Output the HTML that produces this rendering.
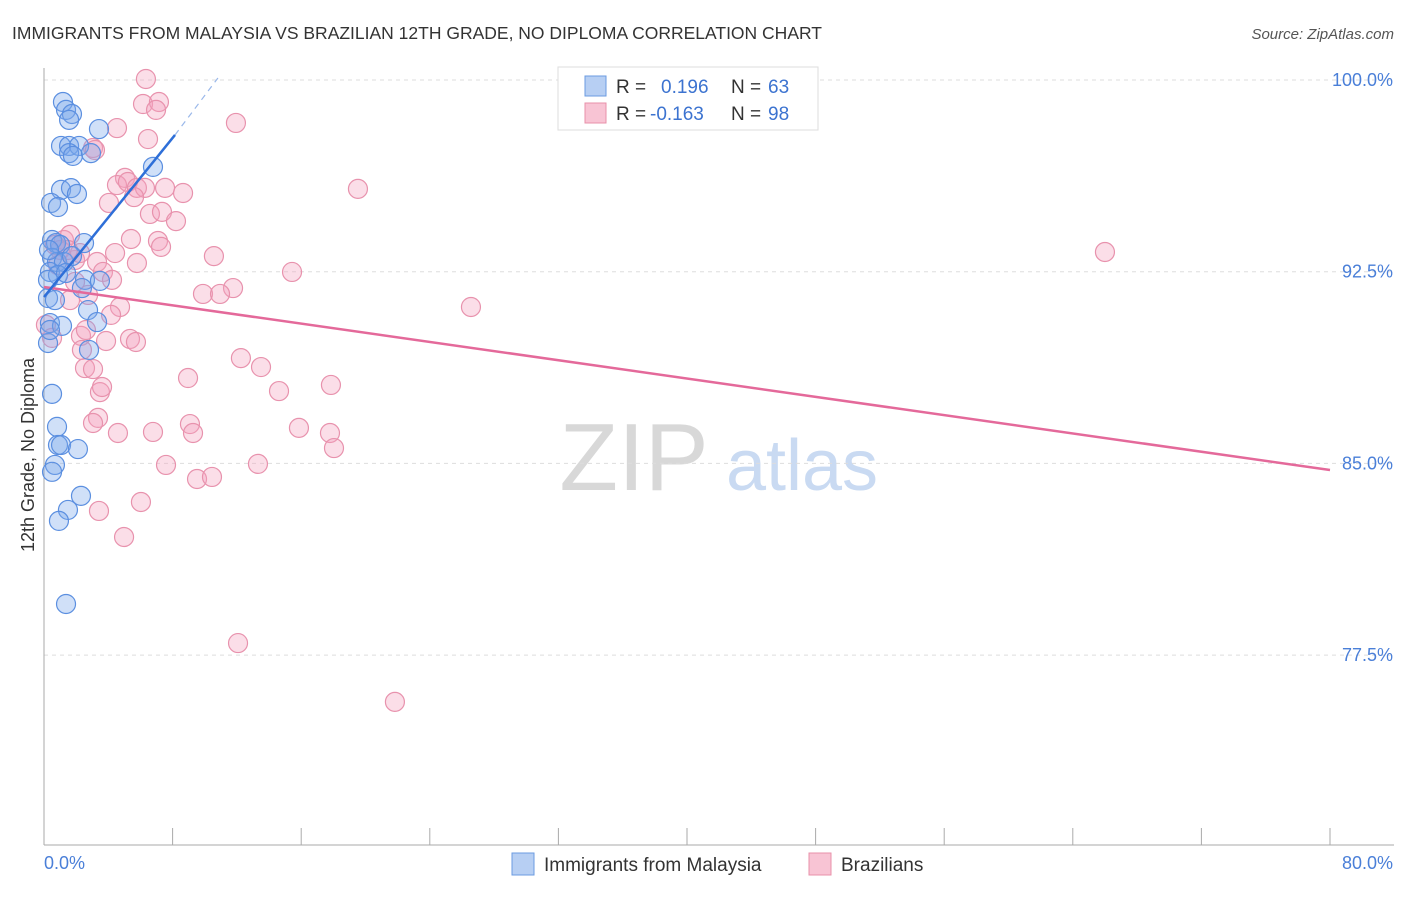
<!DOCTYPE html>
<html><head><meta charset="utf-8"><style>
body{margin:0;background:#fff;font-family:"Liberation Sans",sans-serif;}
svg text{font-family:"Liberation Sans",sans-serif;}
</style></head><body>
<svg id="chart" width="1406" height="892" viewBox="0 0 1406 892" xmlns="http://www.w3.org/2000/svg">
<text x="12" y="39" font-size="17.5" fill="#333">IMMIGRANTS FROM MALAYSIA VS BRAZILIAN 12TH GRADE, NO DIPLOMA CORRELATION CHART</text>
<text x="1394" y="39" font-size="15" fill="#555" font-style="italic" text-anchor="end">Source: ZipAtlas.com</text>
<g>
<text x="634" y="490" font-size="96" fill="#d8d8d8" font-family="Liberation Serif" text-anchor="middle" font-family="Liberation Serif,serif">ZIP</text>
<text x="802" y="490" font-size="72" fill="#c9daf2" text-anchor="middle">atlas</text>
</g>
<g id="grid"></g>
<g id="axes"></g>
<g id="pts"></g>
<g id="lines"></g>
<text transform="translate(34,455) rotate(-90)" font-size="18" fill="#333" text-anchor="middle">12th Grade, No Diploma</text>
<g>
<rect x="558" y="67" width="260" height="63" fill="#fff" stroke="#ddd"/>
<rect x="585" y="76" width="21" height="20" fill="#b7cff3" stroke="#6b9be0"/>
<rect x="585" y="103" width="21" height="20" fill="#f8c4d4" stroke="#e890aa"/>
<text x="616" y="93" font-size="19" fill="#333">R =</text><text x="661" y="93" font-size="19" fill="#3c73d0">0.196</text>
<text x="731" y="93" font-size="19" fill="#333">N =</text><text x="768" y="93" font-size="19" fill="#3c73d0">63</text>
<text x="616" y="120" font-size="19" fill="#333">R =</text><text x="650" y="120" font-size="19" fill="#3c73d0">-0.163</text>
<text x="731" y="120" font-size="19" fill="#333">N =</text><text x="768" y="120" font-size="19" fill="#3c73d0">98</text>
</g>
<g>
<rect x="512" y="853" width="22" height="22" fill="#b7cff3" stroke="#6b9be0"/>
<text x="544" y="871" font-size="19" fill="#333">Immigrants from Malaysia</text>
<rect x="809" y="853" width="22" height="22" fill="#f8c4d4" stroke="#e890aa"/>
<text x="841" y="871" font-size="19" fill="#333">Brazilians</text>
</g>
</svg>
<script>
const yTicks=[100,92.5,85,77.5];
const yTickLabels=["100.0%","92.5%","85.0%","77.5%"];
const xTickVals=[0,8,16,24,32,40,48,56,64,72,80];
const xEndLabels=["0.0%","80.0%"];
const blueX=[1.18,1.37,1.74,1.56,3.42,1.06,1.56,2.18,1.56,1.80,2.92,6.78,1.06,1.68,2.05,0.44,0.87,0.50,0.75,1.00,2.49,0.50,0.81,1.24,1.74,0.37,0.87,1.37,2.55,3.48,0.25,0.68,2.36,2.74,3.30,0.37,1.12,0.25,2.80,0.50,0.81,0.87,1.06,2.11,0.68,0.50,2.30,1.49,0.93,1.37,0.25,0.37,0.31];
const blueY=[99.14,98.83,98.67,98.44,98.08,97.42,97.42,97.42,97.14,97.03,97.14,96.60,95.70,95.77,95.54,95.19,95.03,93.74,93.62,93.55,93.62,93.04,92.88,92.88,93.11,92.49,92.37,92.45,92.18,92.14,91.47,91.39,91.86,91.00,90.53,90.49,90.38,89.71,89.44,87.72,86.43,85.72,85.72,85.56,84.94,84.67,83.73,83.18,82.75,79.50,92.18,90.22,93.35];
const pinkX=[6.34,6.16,7.15,6.97,6.47,11.94,4.54,3.05,1.24,1.62,1.00,0.68,1.93,2.24,5.04,4.54,5.22,5.78,6.28,7.53,8.65,4.04,5.60,6.59,7.34,8.21,19.53,5.41,7.09,7.28,4.42,5.78,3.30,10.57,15.43,11.76,9.89,10.95,66.0,26.56,3.67,4.23,1.93,2.74,4.73,4.17,5.35,5.72,3.86,2.30,2.36,2.55,3.05,3.48,3.61,12.25,13.50,8.96,14.62,17.85,3.36,3.05,4.60,6.78,9.08,9.27,15.86,17.79,18.04,7.59,13.31,9.52,10.45,3.42,6.03,4.98,12.07,21.83,1.62,2.61,0.12,0.50,0.87,1.49,3.17];
const pinkY=[100.04,99.06,99.14,98.83,97.69,98.32,98.12,97.34,93.74,93.94,93.35,93.55,92.96,93.23,96.17,95.89,96.01,95.78,95.78,95.78,95.58,95.19,95.42,94.76,94.84,94.48,95.74,93.78,93.70,93.47,93.23,92.84,92.88,93.11,92.49,91.86,91.63,91.63,93.27,91.12,92.49,92.18,92.10,91.59,91.12,90.81,89.87,89.75,89.79,89.99,89.44,88.73,88.69,87.79,87.99,89.12,88.77,88.34,87.83,88.07,86.78,86.58,86.19,86.23,86.54,86.19,86.39,86.19,85.60,84.94,84.98,84.39,84.47,83.14,83.49,82.12,77.97,75.67,91.39,90.22,90.42,89.91,92.76,93.35,97.26];
const blueFit=[[0,91.51],[8.15,97.85]];
const blueFitDash=[[8.15,97.85],[10.82,100.08]];
const pinkFit=[[0,91.90],[80,84.74]];

const NS="http://www.w3.org/2000/svg";
const sx=v=>44+v/80*1286;
const sy=v=>80+(100-v)/7.5*191.7;
function mk(tag,attrs,parent){const e=document.createElementNS(NS,tag);for(const k in attrs)e.setAttribute(k,attrs[k]);parent.appendChild(e);return e;}
const grid=document.getElementById('grid'),axes=document.getElementById('axes'),pts=document.getElementById('pts'),lines=document.getElementById('lines');
yTicks.forEach((t,i)=>{
  const l=mk('line',{x1:44,x2:1394,y1:sy(t),y2:sy(t),stroke:'#ddd','stroke-dasharray':'4,4'},grid);
  
  
  const tx=mk('text',{x:1393,y:sy(t)+6,'font-size':18,fill:'#4a7fd8','text-anchor':'end'},axes);
  tx.textContent=yTickLabels[i];
  
  
});
const ya=mk('line',{x1:44,x2:44,y1:68,y2:845,stroke:'#aaa'},axes);


const xa=mk('line',{x1:44,x2:1394,y1:845,y2:845,stroke:'#aaa'},axes);


xTickVals.forEach(v=>{
  const t=mk('line',{x1:sx(v),x2:sx(v),y1:828,y2:845,stroke:'#aaa'},axes);
  
  
});
const xl0=mk('text',{x:44,y:869,'font-size':18,fill:'#4a7fd8'},axes);
xl0.textContent=xEndLabels[0];


const xl1=mk('text',{x:1393,y:869,'font-size':18,fill:'#4a7fd8','text-anchor':'end'},axes);
xl1.textContent=xEndLabels[1];


pinkX.forEach((x,i)=>{
  const c=mk('circle',{cx:sx(x),cy:sy(pinkY[i]),r:9.5,fill:'rgba(244,160,188,0.35)',stroke:'#e892ad','stroke-width':1.2},pts);
  
  
});
blueX.forEach((x,i)=>{
  const c=mk('circle',{cx:sx(x),cy:sy(blueY[i]),r:9.5,fill:'rgba(120,165,235,0.35)',stroke:'#5b8fe0','stroke-width':1.2},pts);
  
  
});
const pl=mk('line',{x1:sx(pinkFit[0][0]),y1:sy(pinkFit[0][1]),x2:sx(pinkFit[1][0]),y2:sy(pinkFit[1][1]),stroke:'#e4699a','stroke-width':2.5},lines);


const bl=mk('line',{x1:sx(blueFit[0][0]),y1:sy(blueFit[0][1]),x2:sx(blueFit[1][0]),y2:sy(blueFit[1][1]),stroke:'#2e6fd8','stroke-width':2.5},lines);


const bd=mk('line',{x1:sx(blueFitDash[0][0]),y1:sy(blueFitDash[0][1]),x2:sx(blueFitDash[1][0]),y2:sy(blueFitDash[1][1]),stroke:'#9ab8ea','stroke-width':1.2,'stroke-dasharray':'6,5'},lines);


</script>
</body></html>
